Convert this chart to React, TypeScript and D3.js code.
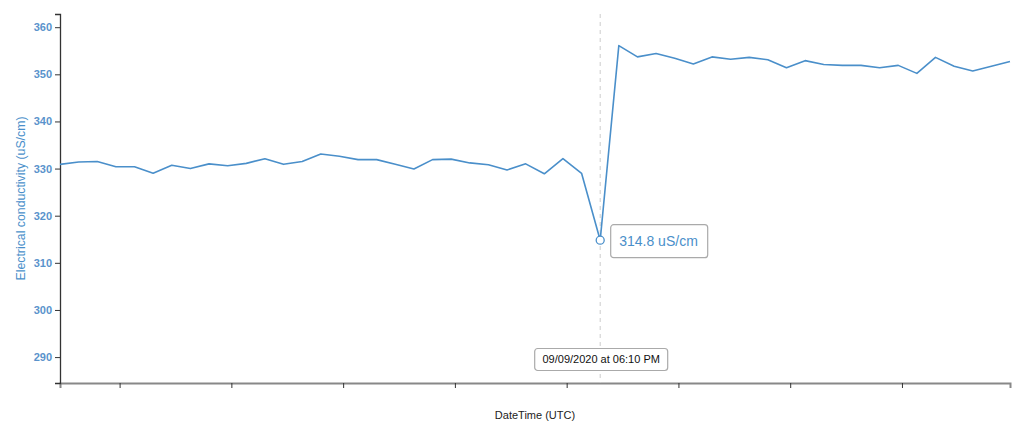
import React, { useEffect, useRef } from "react";
import * as d3 from "d3";

// ---- data ----
const startTime = new Date(2020, 8, 9, 13, 28);
const stepMinutes = 10;
const conductivity: number[] = [
  330.9, 331.4, 331.5, 330.4, 330.4, 329.0, 330.7, 330.0, 331.0, 330.6,
  331.1, 332.1, 330.9, 331.5, 333.1, 332.6, 331.9, 331.9, 330.9, 329.9,
  331.9, 332.0, 331.2, 330.8, 329.7, 331.0, 328.9, 332.1, 329.0, 314.8,
  356.1, 353.7, 354.4, 353.4, 352.2, 353.7, 353.2, 353.6, 353.1, 351.4,
  352.9, 352.1, 351.9, 351.9, 351.4, 351.9, 350.2, 353.6, 351.7, 350.7,
  351.7, 352.7,
];
const yTicks = [290, 300, 310, 320, 330, 340, 350, 360];
const yDomain: [number, number] = [284.5, 362.8];
const highlightIndex = 29;
const highlightValueLabel = "314.8 uS/cm";
const highlightDateLabel = "09/09/2020 at 06:10 PM";
const yLabel = "Electrical conductivity (uS/cm)";
const xLabel = "DateTime (UTC)";

const data = conductivity.map((v, i) => ({
  t: new Date(startTime.getTime() + i * stepMinutes * 60000),
  v,
}));

const W = 1024;
const H = 421;
const m = { left: 52, right: 14, top: 6, bottom: 38 };
const FONT = "'Liberation Sans', Arial, sans-serif";
const BLUE = "#4a8fca";
const LABEL_BLUE = "#5a93cc";

export default function App() {
  const ref = useRef<SVGSVGElement | null>(null);
  useEffect(() => {
    const svg = d3.select(ref.current);
    svg.selectAll("*").remove();
    const x = d3
      .scaleTime()
      .domain(d3.extent(data, (d) => d.t) as [Date, Date])
      .range([m.left, W - m.right - 8]);
    const y = d3.scaleLinear().domain(yDomain).range([H - m.bottom - 8, m.top]);

    // x axis
    const gx = svg
      .append("g")
      .attr("transform", `translate(0,${H - m.bottom - 8})`)
      .call(
        d3
          .axisBottom(x)
          .ticks(d3.timeHour.every(1))
          .tickFormat(() => "")
          .tickSize(5)
          .tickSizeOuter(5)
      );
    gx.select(".domain").attr("stroke", "#888").attr("stroke-width", 2);
    gx.selectAll(".tick line").attr("stroke", "#333");

    // y axis
    const gy = svg
      .append("g")
      .attr("transform", `translate(${m.left},0)`)
      .call(d3.axisLeft(y).tickValues(yTicks).tickSize(5).tickSizeOuter(5).tickPadding(3));
    gy.select(".domain").attr("stroke", "#333").attr("stroke-width", 1.3);
    gy.selectAll(".tick line").attr("stroke", "#333");
    gy.selectAll(".tick text")
      .attr("fill", LABEL_BLUE)
      .attr("font-family", FONT)
      .attr("font-size", 11)
      .attr("font-weight", "bold");

    // y label
    svg
      .append("text")
      .attr("transform", `translate(17,${(y.range()[0] + y.range()[1]) / 2}) rotate(-90)`)
      .attr("text-anchor", "middle")
      .attr("fill", BLUE)
      .attr("font-family", FONT)
      .attr("font-size", 12.3)
      .text(yLabel);

    // x label
    svg
      .append("text")
      .attr("x", 527)
      .attr("y", H - 8 - 2)
      .attr("text-anchor", "middle")
      .attr("fill", "#222")
      .attr("font-family", FONT)
      .attr("font-size", 11)
      .text(xLabel);

    const hd = data[highlightIndex];
    const hx = x(hd.t);
    const hy = y(hd.v);

    // vertical dashed line
    svg
      .append("line")
      .attr("x1", hx)
      .attr("x2", hx)
      .attr("y1", m.top)
      .attr("y2", y.range()[0])
      .attr("stroke", "#ccc")
      .attr("stroke-dasharray", "4,4");

    // line
    const line = d3
      .line<{ t: Date; v: number }>()
      .x((d) => x(d.t))
      .y((d) => y(d.v));
    svg
      .append("path")
      .datum(data)
      .attr("d", line)
      .attr("fill", "none")
      .attr("stroke", BLUE)
      .attr("stroke-width", 1.6)
      .attr("stroke-linejoin", "round");

    // highlight point
    svg
      .append("circle")
      .attr("cx", hx)
      .attr("cy", hy)
      .attr("r", 4)
      .attr("fill", "#fff")
      .attr("stroke", BLUE)
      .attr("stroke-width", 1.3);

    // value tooltip
    const vt = svg.append("g").attr("transform", `translate(${hx + 10},${hy - 16})`);
    vt.append("rect")
      .attr("x", 0.5)
      .attr("y", 0.5)
      .attr("width", 97)
      .attr("height", 33)
      .attr("rx", 3)
      .attr("fill", "#fff")
      .attr("stroke", "#aaa")
      .attr("stroke-width", 1.2);
    vt.append("text")
      .attr("x", 9)
      .attr("y", 22)
      .attr("fill", BLUE)
      .attr("font-family", FONT)
      .attr("font-size", 14)
      .text(highlightValueLabel);

    // date tooltip
    const dt = svg.append("g").attr("transform", `translate(${hx - 66},${y.range()[0] - 35})`);
    dt.append("rect")
      .attr("x", 0.5)
      .attr("y", 0.5)
      .attr("width", 133)
      .attr("height", 22)
      .attr("rx", 3)
      .attr("fill", "#fff")
      .attr("stroke", "#aaa")
      .attr("stroke-width", 1.2);
    dt.append("text")
      .attr("x", 67)
      .attr("y", 15)
      .attr("text-anchor", "middle")
      .attr("fill", "#111")
      .attr("font-family", FONT)
      .attr("font-size", 11)
      .text(highlightDateLabel);
  }, []);
  return <svg ref={ref} width={W} height={H} style={{ display: "block" }} />;
}
